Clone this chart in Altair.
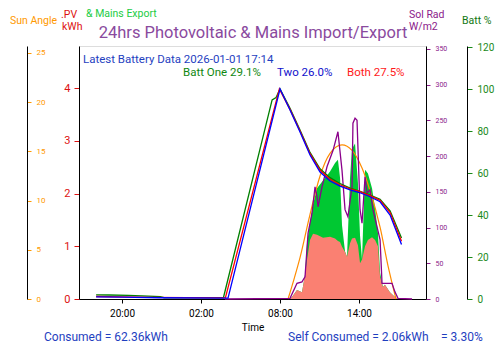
import altair as alt
import pandas as pd

# ---------------- data (hours since 2025-12-31 00:00) ----------------
x_domain = [16.73, 43.09]
x_tick_hours = [20, 26, 32, 38]
x_tick_labels = ["20:00", "02:00", "08:00", "14:00"]

batt_green_h = [18.03, 19.0, 20.5, 22.0, 22.9, 23.2, 27.7, 31.4, 31.7, 32.0, 32.76, 33.52,
                34.28, 35.04, 35.80, 36.56, 37.32, 38.08, 38.84, 39.60, 40.36, 41.23]
batt_green_v = [2.0, 1.9, 1.7, 1.4, 1.1, 0.6, 0.6, 94.8, 96.0, 100.0, 90.8, 80.5,
                69.8, 62.0, 57.8, 55.0, 52.8, 51.3, 49.5, 47.5, 42.0, 29.1]

batt_red_h = [18.03, 22.0, 27.85, 31.95, 32.76, 33.52, 34.28, 35.04, 35.80, 36.56, 37.32,
              38.08, 38.84, 39.60, 40.36, 41.23]
batt_red_v = [1.2, 0.8, 0.5, 100.0, 90.3, 80.0, 69.2, 61.3, 57.0, 54.4, 52.5,
              51.1, 49.2, 47.0, 41.2, 27.5]

batt_blue_h = [18.03, 20.0, 22.9, 28.05, 32.0, 32.76, 33.52, 34.28, 35.04, 35.80, 36.56,
               37.32, 38.08, 38.84, 39.60, 40.36, 41.23]
batt_blue_v = [1.0, 0.9, 0.6, 0.4, 100.0, 90.0, 79.5, 68.6, 60.5, 56.2, 53.8,
               52.0, 50.6, 48.7, 46.3, 40.0, 26.0]

pv_h = [32.76, 32.91, 33.29, 33.67, 33.90, 34.05, 34.28, 34.51, 34.81, 35.27, 35.80, 36.18,
        36.40, 36.56, 36.71, 36.94, 37.09, 37.32, 37.47, 37.70, 37.92, 38.08, 38.23, 38.46,
        38.68, 38.99, 39.22, 39.44, 39.60, 39.82, 39.97, 40.35, 40.73, 40.96]
pv_self_kwh = [0.0, 0.04, 0.17, 0.13, 0.46, 0.74, 1.12, 1.24, 1.22, 1.16, 1.18, 1.15,
               1.10, 1.08, 0.99, 0.89, 0.80, 1.06, 1.15, 1.16, 1.02, 0.68, 0.75, 1.00,
               1.12, 1.17, 1.12, 1.00, 0.42, 0.23, 0.27, 0.13, 0.04, 0.0]
pv_total_kwh = [0.0, 0.04, 0.17, 0.13, 0.46, 1.06, 1.45, 1.80, 2.10, 2.25, 2.42, 2.58,
                2.64, 2.30, 1.40, 0.90, 0.80, 2.30, 2.85, 2.95, 2.20, 1.20, 0.75, 2.45,
                2.38, 2.10, 1.72, 1.25, 0.50, 0.23, 0.27, 0.13, 0.04, 0.0]

solrad_h = [27.82, 32.76, 33.29, 33.67, 33.90, 34.13, 34.43, 34.66, 34.81, 34.89, 35.19, 35.57,
            36.03, 36.40, 36.71, 36.94, 37.16, 37.47, 37.54, 37.70, 37.85, 38.08, 38.23, 38.46,
            38.61, 38.84, 39.06, 39.37, 39.60, 39.75, 40.51, 40.73, 40.96, 42.03]
solrad_v = [0, 1, 22, 24, 31, 92, 120, 157, 143, 129, 157, 185,
            208, 234, 180, 125, 115, 157, 246, 253, 250, 125, 106, 171,
            148, 153, 125, 101, 83, 22, 22, 10, 1, 0]

sun_h = [32.61, 33.06, 33.52, 34.28, 35.04, 35.80, 36.71, 37.47, 38.23, 38.84, 39.60, 40.20, 40.81]
sun_v = [0, 2.0, 4.2, 8.6, 12.5, 14.8, 15.65, 15.1, 13.3, 11.0, 7.3, 3.4, 0]

pv_ticks = [0, 1, 2, 3, 4]
sun_ticks = [0, 5, 10, 15, 20, 25]
solrad_ticks = [0, 50, 100, 150, 200, 250, 300, 350]
batt_ticks = [0, 20, 40, 60, 80, 100, 120]

# ---------------- styling ----------------
FONT = "Roboto"
C_ORANGE = "#ff9900"
C_RED = "#dd1111"
C_PURPLE = "#8b1a8b"
C_BATTG = "#1a8a1a"
C_BLUE = "#1f3fbf"

label_expr = " : ".join(
    f"datum.value == {h} ? '{l}'" for h, l in zip(x_tick_hours, x_tick_labels)
) + " : ''"

x_scale = alt.Scale(domain=x_domain, nice=False, zero=False)
X = alt.X("h:Q", scale=x_scale, axis=alt.Axis(
    values=x_tick_hours, labelExpr=label_expr, title="Time", grid=False,
    domainColor="black", tickColor="black", labelColor="black", tickSize=4,
    labelFontSize=10, labelPadding=5, titleFontSize=10, titleFontWeight="normal",
    titleColor="black", titlePadding=4, labelFont=FONT, titleFont=FONT))

pv_scale = alt.Scale(domain=[0, 4.8], nice=False, zero=True)
sun_scale = alt.Scale(domain=[0, 25.7], nice=False)
sol_scale = alt.Scale(domain=[0, 354], nice=False)
batt_scale = alt.Scale(domain=[0, 120.5], nice=False)

df_pv = pd.DataFrame({"h": pv_h, "self": pv_self_kwh, "total": pv_total_kwh})

green_area = alt.Chart(df_pv).mark_area(color="#00c832", opacity=1).encode(
    x=X,
    y=alt.Y("total:Q", scale=pv_scale, axis=alt.Axis(
        orient="left", values=pv_ticks, title=None, grid=False, domainColor="black",
        tickColor=C_RED, labelColor=C_RED, tickSize=5, labelFontSize=11, labelPadding=4,
        labelFont=FONT)))
salmon_area = alt.Chart(df_pv).mark_area(color="#fa8072", opacity=1).encode(
    x=X, y=alt.Y("self:Q", scale=pv_scale, axis=None))

sun_line = alt.Chart(pd.DataFrame({"h": sun_h, "v": sun_v})).mark_line(
    color="darkorange", strokeWidth=1.2, interpolate="monotone").encode(
    x=X, y=alt.Y("v:Q", scale=sun_scale, axis=alt.Axis(
        orient="right", offset=-399, values=sun_ticks, title=None, grid=False,
        domainColor="black", tickColor=C_ORANGE, labelColor=C_ORANGE, tickSize=4,
        labelFontSize=8, labelPadding=5, labelFont=FONT)))

sol_line = alt.Chart(pd.DataFrame({"h": solrad_h, "v": solrad_v})).mark_line(
    color="#8b008b", strokeWidth=1.3).encode(
    x=X, y=alt.Y("v:Q", scale=sol_scale, axis=alt.Axis(
        orient="right", values=solrad_ticks, title=None, grid=False,
        domainColor="black", tickColor=C_PURPLE, labelColor=C_PURPLE, tickSize=4,
        labelFontSize=7, labelPadding=5, labelFont=FONT)))

bg = alt.Chart(pd.DataFrame({"h": batt_green_h, "v": batt_green_v})).mark_line(
    color="#008000", strokeWidth=1.3).encode(
    x=X, y=alt.Y("v:Q", scale=batt_scale, axis=alt.Axis(
        orient="right", offset=41, values=batt_ticks, title=None, grid=False,
        domainColor="black", tickColor=C_BATTG, labelColor=C_BATTG, tickSize=5,
        labelFontSize=10, labelPadding=5, labelFont=FONT)))
br = alt.Chart(pd.DataFrame({"h": batt_red_h, "v": batt_red_v})).mark_line(
    color="#ff0000", strokeWidth=1.3).encode(
    x=X, y=alt.Y("v:Q", scale=batt_scale, axis=None))
bb = alt.Chart(pd.DataFrame({"h": batt_blue_h, "v": batt_blue_v})).mark_line(
    color="#0000ff", strokeWidth=1.3).encode(
    x=X, y=alt.Y("v:Q", scale=batt_scale, axis=None))

# ---------------- texts (relative to plot origin) ----------------
texts = [
    ("24hrs Photovoltaic & Mains Import/Export", 174, -13, 16.5, "#8a4a9e", "center"),
    ("Sun Angle", -45.5, -25, 10.5, C_ORANGE, "center"),
    (".PV", -18, -31, 10.5, C_RED, "left"),
    ("kWh", -17, -19, 10.5, C_RED, "left"),
    ("& Mains Export", 7, -32, 10.5, "#22cc44", "left"),
    ("Sol Rad", 330, -31, 10.5, C_PURPLE, "left"),
    ("W/m2", 330, -19, 10.5, C_PURPLE, "left"),
    ("Batt %", 383, -25, 10.5, "#117711", "left"),
    ("Latest Battery Data 2026-01-01 17:14", 4, 13.5, 11.5, C_BLUE, "left"),
    ("Batt One 29.1%", 104, 26.5, 11.5, "#118811", "left"),
    ("Two 26.0%", 198, 26.5, 11.5, "#1111cc", "left"),
    ("Both 27.5%", 268, 26.5, 11.5, "#ff1a1a", "left"),
    ("Consumed = 62.36kWh", -35, 291, 12, C_BLUE, "left"),
    ("Self Consumed = 2.06kWh", 209, 291, 12, C_BLUE, "left"),
    ("= 3.30%", 362, 291, 12, C_BLUE, "left"),
]
text_layers = []
for t, tx, ty, fs, col, al in texts:
    text_layers.append(
        alt.Chart(pd.DataFrame({"t": [t]})).mark_text(
            fontSize=fs, color=col, align=al, baseline="middle", font=FONT).encode(
            text="t:N", x=alt.value(tx), y=alt.value(ty)))

chart = alt.layer(
    green_area, salmon_area, sun_line, sol_line, bg, br, bb, *text_layers
).resolve_scale(y="independent").properties(
    width=347, height=253,
    autosize=alt.AutoSizeParams(type="none"),
    padding={"left": 79, "top": 46, "right": 74, "bottom": 54},
    background="white",
).configure_view(stroke="black", strokeWidth=1).configure(font=FONT)

chart.save("out.html", embed_options={"renderer": "svg", "actions": False})
